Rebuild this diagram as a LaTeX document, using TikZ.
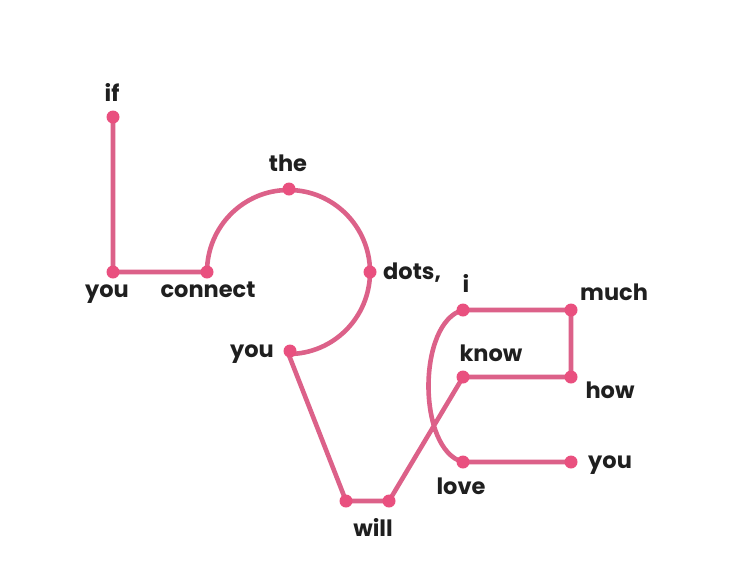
\documentclass[tikz,border=0pt]{standalone}
\usepackage{fontspec}
\setmainfont{Poppins}
\usepackage{tikz}
\usetikzlibrary{calc}

\definecolor{linepink}{HTML}{DC6189}
\definecolor{dotpink}{HTML}{E9507F}

\begin{document}
\begin{tikzpicture}[x=1pt,y=-1pt,
		curve/.style={draw=linepink,line width=4.6pt,line cap=round,line join=round},
		dot/.style={fill=dotpink},
		word/.style={anchor=base,font=\bfseries\fontsize{22.5}{26}\selectfont,text=black!88,inner sep=0pt}]
		\useasboundingbox (0,0) rectangle (735,582);
		% points of the path
		\coordinate (if) at (113,117);
		\coordinate (you1) at (113,272);
		\coordinate (connect) at (207,272);
		\coordinate (the) at (289,189);
		\coordinate (dots) at (370,272);
		\coordinate (you2) at (290,351);
		\coordinate (will1) at (346,501);
		\coordinate (will2) at (389,501);
		\coordinate (know) at (463,377);
		\coordinate (how) at (571,377);
		\coordinate (much) at (571,310);
		\coordinate (i) at (463,310);
		\coordinate (love) at (463,462);
		\coordinate (you3) at (571,462);
		% the line
		\draw[curve] (if) -- (you1) -- (connect) arc[start angle=180,end angle=450,x radius=81.5,y radius=82] -- (will1) -- (will2) -- (know) -- (how) -- (much) -- (i) .. controls (417,322) and (417,450) .. (love) -- (you3);
		\foreach \p in {if,you1,connect,the,dots,you2,will1,will2,know,how,much,i,love,you3}
			\fill[dot] (\p) circle (6.5);
		% words
		\node[word] (lif) at (112,101) {if};
		\node[word] (lyou1) at (107,297) {you};
		\node[word] (lconnect) at (208,297) {connect};
		\node[word] (lthe) at (288,171) {the};
		\node[word,anchor=base west] (ldots) at (383,279) {dots,};
		\node[word] (lyou2) at (252,357) {you};
		\node[word] (lwill) at (373,536) {will};
		\node[word] (lknow) at (491,361) {know};
		\node[word] (li) at (466,292) {i};
		\node[word,anchor=base west] (lmuch) at (580,300) {much};
		\node[word] (lhow) at (610,398) {how};
		\node[word,anchor=base west] (lyou3) at (588,468) {you};
		\node[word] (llove) at (461,494) {love};
	\end{tikzpicture}
\end{document}
